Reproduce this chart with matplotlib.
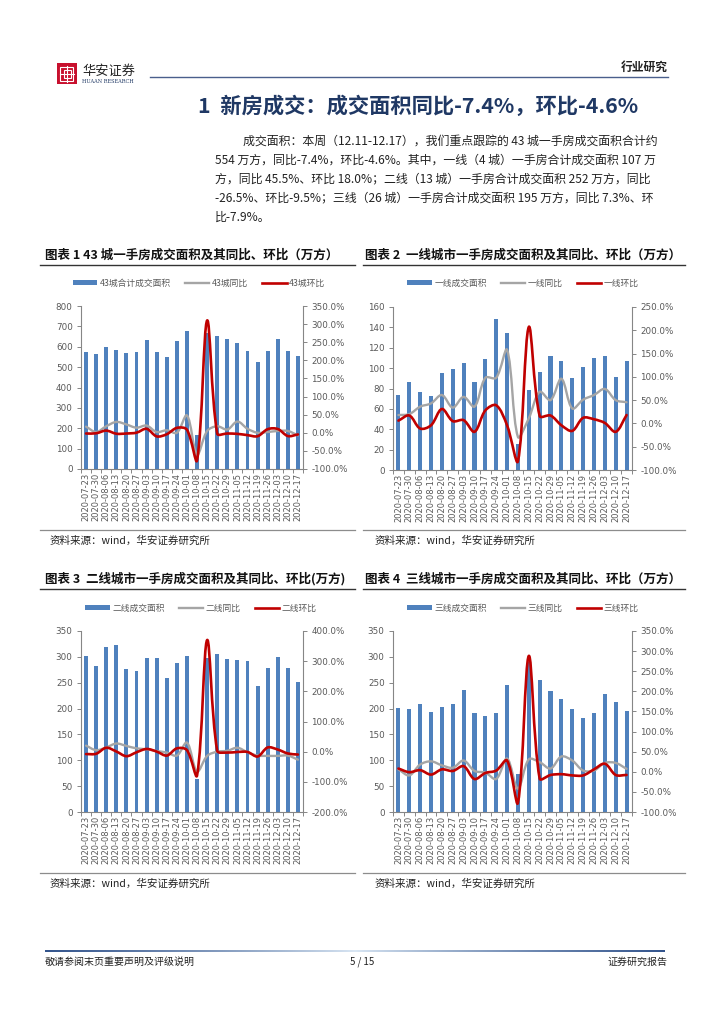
import numpy as np
import matplotlib
matplotlib.use('Agg')
import matplotlib.pyplot as plt
from matplotlib.path import Path
from matplotlib.patches import PathPatch, Rectangle, Patch
from matplotlib.lines import Line2D

W, H = 724, 1024
CJK = ['Noto Sans CJK SC', 'DejaVu Sans']
plt.rcParams['font.family'] = CJK

# ---------------- data ----------------
dates = ['2020-07-23', '2020-07-30', '2020-08-06', '2020-08-13', '2020-08-20',
         '2020-08-27', '2020-09-03', '2020-09-10', '2020-09-17', '2020-09-24',
         '2020-10-01', '2020-10-08', '2020-10-15', '2020-10-22', '2020-10-29',
         '2020-11-05', '2020-11-12', '2020-11-19', '2020-11-26', '2020-12-03',
         '2020-12-10', '2020-12-17']

area_43 = [573, 565, 601, 584, 571, 575, 635, 573, 552, 627, 679, 165, 666, 653,
           640, 619, 578, 526, 578, 637, 580, 553]
yoy_43 = [17, 2, 18, 30, 23, 14, 20, 2, 7, 0, 48, -60, 5, 18, 9, 31, 11, 0, 2, 5, 5, -7.4]
qoq_43 = [-2, -1.4, 6, -2.6, -2, 0.3, 11, -10, -4, 13.6, 8.4, -76, 310, -2.2, -2, -3,
          -6.5, -9.5, 10, 10.4, -9, -4.6]

area_t1 = [74, 86, 77, 73, 95, 99, 105, 86, 109, 148, 134, 26, 79, 96, 112, 107, 90,
           101, 110, 112, 91, 107]
yoy_t1 = [18, 20, 36, 43, 61, 34, 57, 36, 98, 98, 158, -29, 11, 68, 50, 96, 32, 51, 61,
          74, 50, 45.5]
qoq_t1 = [6, 17, -11, -4, 31, 5, 7, -18, 28, 39, -4, -81, 207, 16, 17, -4, -16, 12, 9,
          1, -18, 18]

area_t2 = [302, 282, 320, 322, 276, 272, 297, 298, 260, 288, 302, 64, 297, 306, 296,
           294, 292, 244, 279, 299, 279, 252]
yoy_t2 = [20, 5, 14, 27, 19, 11, 8, 2, -3, -13, 30, -66, -14, 0, 3, 13, -2, -13, -14,
          -14, -13, -26.5]
qoq_t2 = [-8, -7, 13, 0.6, -15, -2, 9, 0.3, -13, 11, 5, -79, 370, 3, -3, -1, -1, -16,
          14, 7, -6, -9.5]

area_t3 = [201, 200, 208, 193, 204, 208, 236, 192, 186, 192, 245, 74, 290, 255, 234,
           219, 199, 182, 192, 229, 212, 195]
yoy_t3 = [6, -9, 18, 26, 16, 10, 28, 2, -2, -18, 33, -42, 31, 24, 8, 38, 28, 3, 3, 22,
          22, 7.3]
qoq_t3 = [8, -1, 4, -7, 6, 2, 14, -18, -3, 3, 28, -77, 288, -17, -8, -6, -9, -9, 6, 20,
          -8, -7.9]

BAR = '#4F81BD'
GRAY = '#A5A5A5'
RED = '#C00000'
TXT = '#595959'
SPINE = '#868686'

fig = plt.figure(figsize=(7.24, 10.24), dpi=100)


def fx(x):
    return x / W


def fy(y):
    return 1 - y / H


def rect(x0, y0, x1, y1):
    return [x0 / W, 1 - y1 / H, (x1 - x0) / W, (y1 - y0) / H]


def smooth_line(ax, x, y, color, lw):
    """Excel-like smoothed line: Bezier segments whose control arms are scaled
    by the neighbouring segment lengths in display space."""
    data = np.column_stack([x, y]).astype(float)
    disp = ax.transData.transform(data)
    n = len(disp)
    inv = ax.transData.inverted()
    arms_in = np.zeros_like(disp)
    arms_out = np.zeros_like(disp)
    for i in range(n):
        p_prev = disp[i - 1] if i > 0 else disp[i]
        p_next = disp[i + 1] if i < n - 1 else disp[i]
        T = p_next - p_prev
        d_in = np.hypot(*(disp[i] - p_prev))
        d_out = np.hypot(*(p_next - disp[i]))
        tot = d_in + d_out
        if tot == 0:
            continue
        f = 1.0 / 3.0
        arms_in[i] = T * f * d_in / tot
        arms_out[i] = T * f * d_out / tot
    verts = [tuple(data[0])]
    codes = [Path.MOVETO]
    for i in range(n - 1):
        c1 = inv.transform(disp[i] + arms_out[i])
        c2 = inv.transform(disp[i + 1] - arms_in[i + 1])
        verts += [tuple(c1), tuple(c2), tuple(data[i + 1])]
        codes += [Path.CURVE4] * 3
    patch = PathPatch(Path(verts, codes), facecolor='none', edgecolor=color, lw=lw,
                      capstyle='round', joinstyle='round', transform=ax.transData,
                      zorder=3)
    ax.add_patch(patch)


def chart(box, area, yoy, qoq, lmax, lstep, rmin, rmax, rstep, names, leg_xy):
    ax = fig.add_axes(rect(*box))
    x = np.arange(len(dates))
    ax.bar(x, area, width=0.38, color=BAR, zorder=2)
    ax.set_xlim(-0.5, len(dates) - 0.5)
    ax.set_ylim(0, lmax)
    ax.set_yticks(np.arange(0, lmax + 1, lstep))
    ax.set_xticks(x)
    ax.set_xticklabels(dates, rotation=90, fontsize=6, color=TXT,
                       family=['DejaVu Sans'])
    ax.set_xticks(np.arange(-0.5, len(dates), 1), minor=True)
    ax.tick_params(axis='x', which='major', length=0, pad=3)
    ax.tick_params(axis='x', which='minor', length=3, color=SPINE, width=0.7)
    ax.tick_params(axis='y', length=3, color=SPINE, width=0.7, labelsize=6.3,
                   labelcolor=TXT, pad=3)
    for lab in ax.get_yticklabels():
        lab.set_family(['DejaVu Sans'])
    for s in ['top', 'right']:
        ax.spines[s].set_visible(False)
    for s in ['left', 'bottom']:
        ax.spines[s].set_color(SPINE)
        ax.spines[s].set_linewidth(0.8)
    ax.patch.set_alpha(0)

    ax2 = ax.twinx()
    ax2.set_xlim(-0.5, len(dates) - 0.5)
    ax2.set_ylim(rmin, rmax)
    rt = np.arange(rmin, rmax + 0.1, rstep)
    ax2.set_yticks(rt)
    ax2.set_yticklabels([f'{v:.1f}%' for v in rt], family=['DejaVu Sans'])
    ax2.tick_params(axis='y', length=3, color=SPINE, width=0.7, labelsize=6.3,
                    labelcolor=TXT, pad=3)
    for s in ['top', 'left', 'bottom']:
        ax2.spines[s].set_visible(False)
    ax2.spines['right'].set_color(SPINE)
    ax2.spines['right'].set_linewidth(0.8)
    smooth_line(ax2, x, yoy, GRAY, 1.7)
    smooth_line(ax2, x, qoq, RED, 1.9)
    ax2.set_ylim(rmin, rmax)

    handles = [Patch(facecolor=BAR, edgecolor='none'),
               Line2D([], [], color=GRAY, lw=1.7),
               Line2D([], [], color=RED, lw=1.9)]
    fig.legend(handles, names, loc='center', bbox_to_anchor=(fx(leg_xy[0]), fy(leg_xy[1])),
               ncol=3, frameon=False, labelcolor=TXT, handlelength=2.8,
               handleheight=0.6, handletextpad=0.3, columnspacing=1.6,
               prop={'family': CJK, 'size': 6.3})
    return ax


chart((81, 306, 303, 469), area_43, yoy_43, qoq_43, 800, 100, -100, 350, 50,
      ['43城合计成交面积', '43城同比', '43城环比'], (199, 283))
chart((393, 307, 632, 470), area_t1, yoy_t1, qoq_t1, 160, 20, -100, 250, 50,
      ['一线成交面积', '一线同比', '一线环比'], (523, 283))
chart((81, 631, 303, 812), area_t2, yoy_t2, qoq_t2, 350, 50, -200, 400, 100,
      ['二线成交面积', '二线同比', '二线环比'], (201, 608))
chart((393, 631, 632, 812), area_t3, yoy_t3, qoq_t3, 350, 50, -100, 350, 50,
      ['三线成交面积', '三线同比', '三线环比'], (523, 608))

# ---------------- page decorations ----------------
def hline(x0, x1, y, color, lw):
    fig.add_artist(Line2D([fx(x0), fx(x1)], [fy(y), fy(y)], color=color, lw=lw,
                          transform=fig.transFigure))


# header logo
fig.add_artist(Rectangle((fx(57), fy(84)), (77 - 57) / W, (84 - 63) / H,
                         facecolor='#C8102E', edgecolor='none', transform=fig.transFigure))
fig.add_artist(Rectangle((fx(60.5), fy(80.5)), 13 / W, 14 / H, facecolor='none',
                         edgecolor='white', lw=0.8, transform=fig.transFigure))
fig.add_artist(Rectangle((fx(63.5), fy(77.5)), 7 / W, 8 / H, facecolor='none',
                         edgecolor='white', lw=0.8, transform=fig.transFigure))
hline(60.5, 73.5, 73.5, 'white', 0.8)
fig.add_artist(Line2D([fx(67), fx(67)], [fy(65.5), fy(82)], color='white', lw=0.8,
                      transform=fig.transFigure))
fig.text(fx(82), fy(71), '华安证券', fontsize=9.5, color='#222222', va='center', ha='left')
fig.text(fx(82), fy(81.5), 'HUAAN RESEARCH', fontsize=3.6, color='#1F3864', va='center',
         ha='left', family=['DejaVu Serif'])
hline(150, 668, 77, '#4A5F8C', 1.0)
fig.text(fx(668), fy(67), '行业研究', fontsize=8.5, weight='bold', color='#222222',
         ha='right', va='center')

# section title
fig.text(fx(418), fy(106), '1  新房成交：成交面积同比-7.4%，环比-4.6%', fontsize=15.3,
         weight='bold', color='#1F3864', ha='center', va='center')

# paragraph
para = [
    (243, '成交面积：本周（12.11-12.17），我们重点跟踪的 43 城一手房成交面积合计约'),
    (215, '554 万方，同比-7.4%，环比-4.6%。其中，一线（4 城）一手房合计成交面积 107 万'),
    (215, '方，同比 45.5%、环比 18.0%；二线（13 城）一手房合计成交面积 252 万方，同比'),
    (215, '-26.5%、环比-9.5%；三线（26 城）一手房合计成交面积 195 万方，同比 7.3%、环'),
    (215, '比-7.9%。'),
]
for i, (x0, s) in enumerate(para):
    fig.text(fx(x0), fy(141 + 19 * i), s, fontsize=8.6, color='#222222', ha='left',
             va='center')

# chart titles
fig.text(fx(45), fy(255), '图表 1 43 城一手房成交面积及其同比、环比（万方）', fontsize=9.0,
         weight='bold', color='#111111', ha='left', va='center')
fig.text(fx(365), fy(255), '图表 2  一线城市一手房成交面积及其同比、环比（万方）', fontsize=9.0,
         weight='bold', color='#111111', ha='left', va='center')
fig.text(fx(45), fy(579), '图表 3  二线城市一手房成交面积及其同比、环比(万方)', fontsize=9.0,
         weight='bold', color='#111111', ha='left', va='center')
fig.text(fx(365), fy(579), '图表 4  三线城市一手房成交面积及其同比、环比（万方）', fontsize=9.0,
         weight='bold', color='#111111', ha='left', va='center')
hline(40, 355, 265, '#333333', 1.0)
hline(363, 685, 265, '#333333', 1.0)
hline(40, 355, 589, '#333333', 1.0)
hline(363, 685, 589, '#333333', 1.0)

# sources
hline(40, 355, 530, '#8C8C8C', 0.9)
hline(363, 685, 530, '#8C8C8C', 0.9)
hline(40, 355, 873, '#8C8C8C', 0.9)
hline(363, 685, 873, '#8C8C8C', 0.9)
for (x0, y0) in [(50, 541), (375, 541), (50, 884), (375, 884)]:
    fig.text(fx(x0), fy(y0), '资料来源：wind，华安证券研究所', fontsize=7.6, color='#222222',
             ha='left', va='center')

# footer gradient line (drawn as an image strip)
gax = fig.add_axes(rect(45, 949.5, 665, 952.5))
gax.set_axis_off()
t = np.abs(np.linspace(-1, 1, 400)) ** 0.8
c0 = np.array([0.86, 0.91, 0.96])
c1 = np.array([0.20, 0.33, 0.55])
img = (c0[None, :] + (c1 - c0)[None, :] * t[:, None])[None, :, :]
gax.imshow(img, aspect='auto', interpolation='bilinear')

fig.text(fx(45), fy(962), '敬请参阅末页重要声明及评级说明', fontsize=7.2, color='#222222',
         ha='left', va='center')
fig.text(fx(362), fy(962), '5 / 15', fontsize=7.0, color='#222222', ha='center',
         va='center')
fig.text(fx(668), fy(962), '证券研究报告', fontsize=7.2, color='#222222', ha='right',
         va='center')

fig.savefig('out.png', dpi=100)
